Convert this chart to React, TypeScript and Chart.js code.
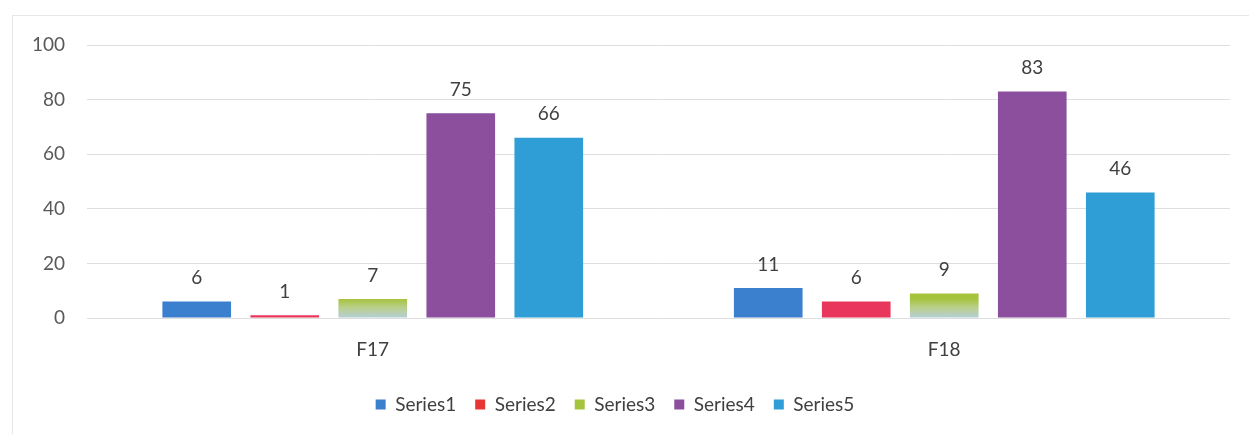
import React, { useEffect, useRef } from "react";
import { Chart, registerables } from "chart.js";

Chart.register(...registerables);

const categories = ["F17", "F18"];
const seriesNames = ["Series1", "Series2", "Series3", "Series4", "Series5"];
const series1 = [6, 11];
const series2 = [1, 6];
const series3 = [7, 9];
const series4 = [75, 83];
const series5 = [66, 46];
const yTicks = [0, 20, 40, 60, 80, 100];

const barColors = ["#3b7fcf", "#e8365c", "#a6c33d", "#8b4f9d", "#2f9ed6"];
const legendColors = ["#3b7fcf", "#e83535", "#a6c33d", "#8b4f9d", "#2f9ed6"];

const FONT = "Lato, 'Open Sans', sans-serif";

const valueLabels = {
  id: "valueLabels",
  afterDatasetsDraw(chart: any) {
    const ctx = chart.ctx;
    ctx.save();
    ctx.font = `19px ${FONT}`;
    ctx.fillStyle = "#404040";
    ctx.textAlign = "center";
    ctx.textBaseline = "bottom";
    chart.data.datasets.forEach((ds: any, i: number) => {
      const meta = chart.getDatasetMeta(i);
      meta.data.forEach((el: any, j: number) => {
        ctx.fillText(String(ds.data[j]), el.x, el.y - 14);
      });
    });
    ctx.restore();
  },
};

export default function App() {
  const ref = useRef<HTMLCanvasElement | null>(null);

  useEffect(() => {
    document.body.style.margin = "0";
    const all = [series1, series2, series3, series4, series5];
    const green = barColors[2];
    const chart = new Chart(ref.current!, {
      type: "bar",
      data: {
        labels: categories,
        datasets: all.map((d, i) => ({
          label: seriesNames[i],
          data: d,
          backgroundColor:
            i === 2
              ? (c: any) => {
                  const ch = c.chart;
                  if (!ch.chartArea || !ch.scales.y) return green;
                  const y0 = ch.scales.y.getPixelForValue(0);
                  const y1 = ch.scales.y.getPixelForValue(7);
                  const g = ch.ctx.createLinearGradient(0, y1, 0, y0);
                  g.addColorStop(0, "#a6c33d");
                  g.addColorStop(0.45, "#b9cf8a");
                  g.addColorStop(1, "#b5cfd9");
                  return g;
                }
              : barColors[i],
          borderWidth: 0,
          barPercentage: 0.78,
          categoryPercentage: 0.77,
        })),
      },
      options: {
        animation: false,
        responsive: false,
        maintainAspectRatio: false,
        layout: { padding: { top: 45, right: 19, bottom: 10, left: 0 } },
        scales: {
          x: {
            grid: { display: false, drawTicks: false },
            border: { display: false },
            ticks: {
              padding: 20,
              color: "#404040",
              font: { family: FONT, size: 19 },
            },
            afterFit: (s: any) => {
              s.height = 58;
            },
          },
          y: {
            min: 0,
            max: 100,
            afterBuildTicks: (s: any) => {
              s.ticks = yTicks.map((v) => ({ value: v }));
            },
            grid: { color: "#dedede", drawTicks: false, lineWidth: 1 },
            border: { display: false },
            ticks: {
              padding: 22,
              color: "#595959",
              font: { family: FONT, size: 19 },
            },
            afterFit: (s: any) => {
              s.width = 87;
            },
          },
        },
        plugins: {
          legend: {
            position: "bottom",
            labels: {
              boxWidth: 10,
              boxHeight: 10,
              padding: 19,
              color: "#404040",
              font: { family: FONT, size: 19 },
              generateLabels: (ch: any) => {
                const base = Chart.defaults.plugins.legend.labels.generateLabels(ch);
                return base.map((l: any, i: number) => ({
                  ...l,
                  fillStyle: legendColors[i],
                  strokeStyle: legendColors[i],
                  lineWidth: 0,
                }));
              },
            },
          },
          tooltip: { enabled: false },
        },
      },
      plugins: [valueLabels],
    } as any);
    return () => chart.destroy();
  }, []);

  return (
    <div style={{ position: "relative", width: 1249, height: 434, background: "#fff" }}>
      <div
        style={{
          position: "absolute",
          left: 12,
          top: 15,
          width: 1249,
          height: 434,
          borderLeft: "1px solid #e6e6e6",
          borderTop: "1px solid #e6e6e6",
          pointerEvents: "none",
        }}
      />
      <canvas ref={ref} width={1249} height={434} style={{ position: "absolute", left: 0, top: 0 }} />
    </div>
  );
}
